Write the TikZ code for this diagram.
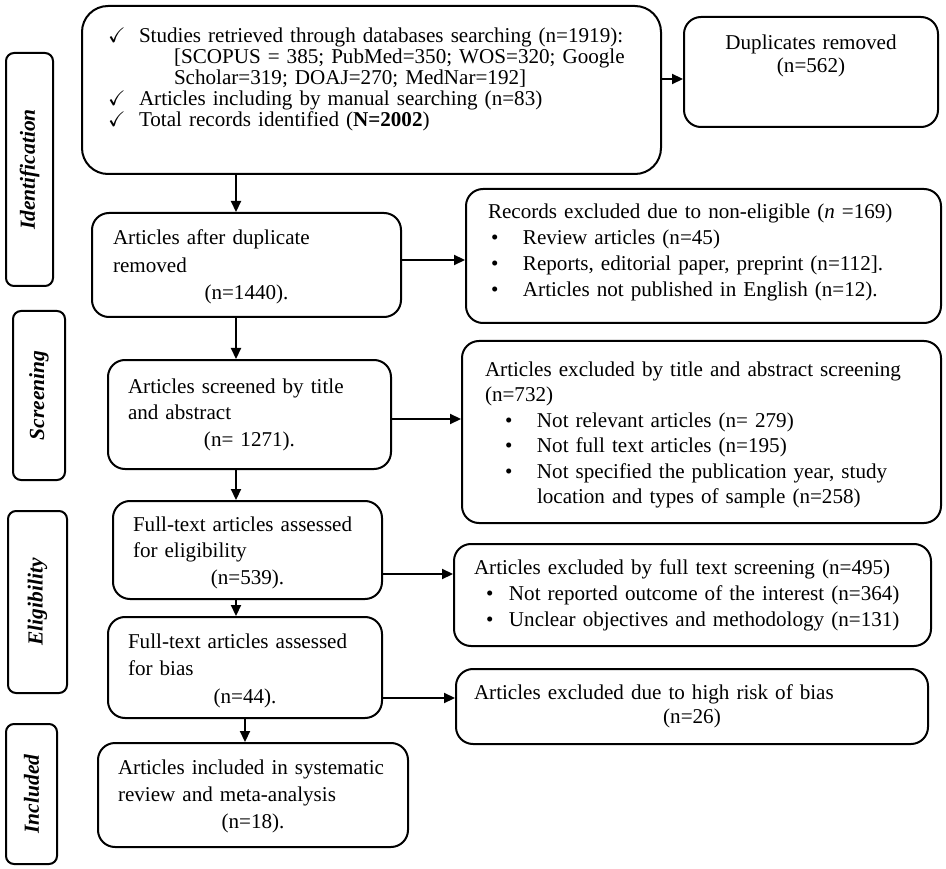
\documentclass[tikz,border=0pt]{standalone}
\usepackage{fontspec}
\setmainfont{Liberation Serif}
\usepackage{amssymb}
\usetikzlibrary{arrows.meta}

\newcommand{\ctr}[1]{\makebox[\hsize]{#1}}
\newcommand{\tick}{\makebox[31pt][l]{$\checkmark$}}
\newcommand{\itm}[3]{\hspace*{#1}\makebox[#2][l]{\textbullet}\mbox{#3}}

\begin{document}
\begin{tikzpicture}[x=1pt,y=-1pt,
  box/.style={draw, line width=2pt, rounded corners=17pt, anchor=north west,
    align=left, inner ysep=0pt, font=\fontsize{21.1}{26.5}\selectfont},
  stage/.style={draw, line width=2pt, rounded corners=8pt, rotate=90,
    inner sep=0pt, font=\fontsize{21.5}{26}\selectfont\bfseries\itshape},
  flow/.style={line width=2.2pt, ->, >={Triangle[length=11pt,width=10pt]}}]
\useasboundingbox (0,0) rectangle (946,869);

% stages on the left
\node[stage, minimum width=233pt, minimum height=47pt] (ident) at (29.5,169.5) {Identification};
\node[stage, minimum width=169pt, minimum height=52pt] (screen) at (39,395.5) {Screening};
\node[stage, minimum width=182pt, minimum height=59pt] (elg) at (37.5,602) {Eligibility};
\node[stage, minimum width=140pt, minimum height=51pt] (inc) at (31.5,794) {Included};

% main column
\node[box, rounded corners=26pt, inner xsep=26pt, text width=527pt, text height=37pt,
  text depth=131pt, font=\fontsize{21.1}{20.8}\selectfont] (rec) at (81,5)
  {\tick\mbox{Studies retrieved through databases searching (n=1919):}\\
   \hspace*{66pt}\mbox{[SCOPUS = 385; PubMed=350; WOS=320; Google}\\
   \hspace*{66pt}\mbox{Scholar=319; DOAJ=270; MedNar=192]}\\
   \tick\mbox{Articles including by manual searching (n=83)}\\
   \tick\mbox{Total records identified (\textbf{N=2002})}};
\node[box, inner xsep=21pt, text width=267pt, text height=32pt, text depth=72pt,
  font=\fontsize{21.1}{27.5}\selectfont] (dupl) at (91,212)
  {\mbox{Articles after duplicate}\\removed\\\ctr{(n=1440).}};
\node[box, inner xsep=20pt, text width=243pt, text height=33pt, text depth=76pt] (scr) at (107,359)
  {\mbox{Articles screened by title}\\and abstract\\\ctr{(n= 1271).}};
\node[box, inner xsep=20pt, text width=229pt, text height=30pt, text depth=68pt] (elig) at (112,500)
  {\mbox{Full-text articles assessed}\\for eligibility\\\ctr{(n=539).}};
\node[box, inner xsep=20pt, text width=234pt, text height=31pt, text depth=70pt,
  font=\fontsize{21.1}{27.5}\selectfont] (bias) at (107,616)
  {\mbox{Full-text articles assessed}\\for bias\\\ctr{(n=44).}};
\node[box, inner xsep=20pt, text width=270pt, text height=31pt, text depth=73pt,
  font=\fontsize{21.1}{27}\selectfont] (incl) at (97,742)
  {\mbox{Articles included in systematic}\\\mbox{review and meta-analysis}\\\ctr{(n=18).}};

% exclusions on the right
\node[box, align=center, inner xsep=10pt, text width=234pt, text height=33pt, text depth=77pt,
  font=\fontsize{21.1}{23}\selectfont] (dup) at (683,16)
  {Duplicates removed\\(n=562)};
\node[box, inner xsep=22pt, text width=431pt, text height=30pt, text depth=104pt,
  font=\fontsize{21.1}{26}\selectfont] (nonelig) at (465,188)
  {\mbox{Records excluded due to non-eligible (\textit{n} =169)}\\
   \itm{3pt}{32pt}{Review articles (n=45)}\\
   \itm{3pt}{32pt}{Reports, editorial paper, preprint (n=112].}\\
   \itm{3pt}{32pt}{Articles not published in English (n=12).}};
\node[box, inner xsep=23pt, text width=433pt, text height=35pt, text depth=147pt,
  font=\fontsize{21.1}{25.6}\selectfont] (titleex) at (461,340)
  {\mbox{Articles excluded by title and abstract screening}\\
   (n=732)\\
   \itm{20pt}{32pt}{Not relevant articles (n= 279)}\\
   \itm{20pt}{32pt}{Not full text articles (n=195)}\\
   \itm{20pt}{32pt}{Not specified the publication year, study}\\
   \hspace*{52pt}\mbox{location and types of sample (n=258)}};
\node[box, inner xsep=20pt, text width=437pt, text height=30pt, text depth=72pt,
  font=\fontsize{21.1}{26}\selectfont] (ftex) at (453,543)
  {\mbox{Articles excluded by full text screening (n=495)}\\
   \itm{12pt}{23pt}{Not reported outcome of the interest (n=364)}\\
   \itm{12pt}{23pt}{Unclear objectives and methodology (n=131)}};
\node[box, inner xsep=18pt, text width=436pt, text height=30pt, text depth=45pt,
  font=\fontsize{21.1}{24}\selectfont] (biasex) at (455,668)
  {\mbox{Articles excluded due to high risk of bias}\\\ctr{(n=26)}};

% arrows
\coordinate (spine) at (236,0);
\draw[flow] (rec.south -| spine) -- (dupl.north -| spine);
\draw[flow] (dupl.south -| spine) -- (scr.north -| spine);
\draw[flow] (scr.south -| spine) -- (elig.north -| spine);
\draw[flow] (elig.south -| spine) -- (bias.north -| spine);
\draw[flow] (bias.south) -- (bias.south |- incl.north);
\draw[flow] ([yshift=11pt]rec.east) -- ([yshift=11pt]rec.east -| dup.west);
\draw[flow] ([yshift=5pt]dupl.east) -- ([yshift=5pt]dupl.east -| nonelig.west);
\draw[flow] ([yshift=-4.5pt]scr.east) -- ([yshift=-4.5pt]scr.east -| titleex.west);
\draw[flow] ([yshift=-24pt]elig.east) -- ([yshift=-24pt]elig.east -| ftex.west);
\draw[flow] ([yshift=-30.5pt]bias.east) -- ([yshift=-30.5pt]bias.east -| biasex.west);
\end{tikzpicture}
\end{document}
